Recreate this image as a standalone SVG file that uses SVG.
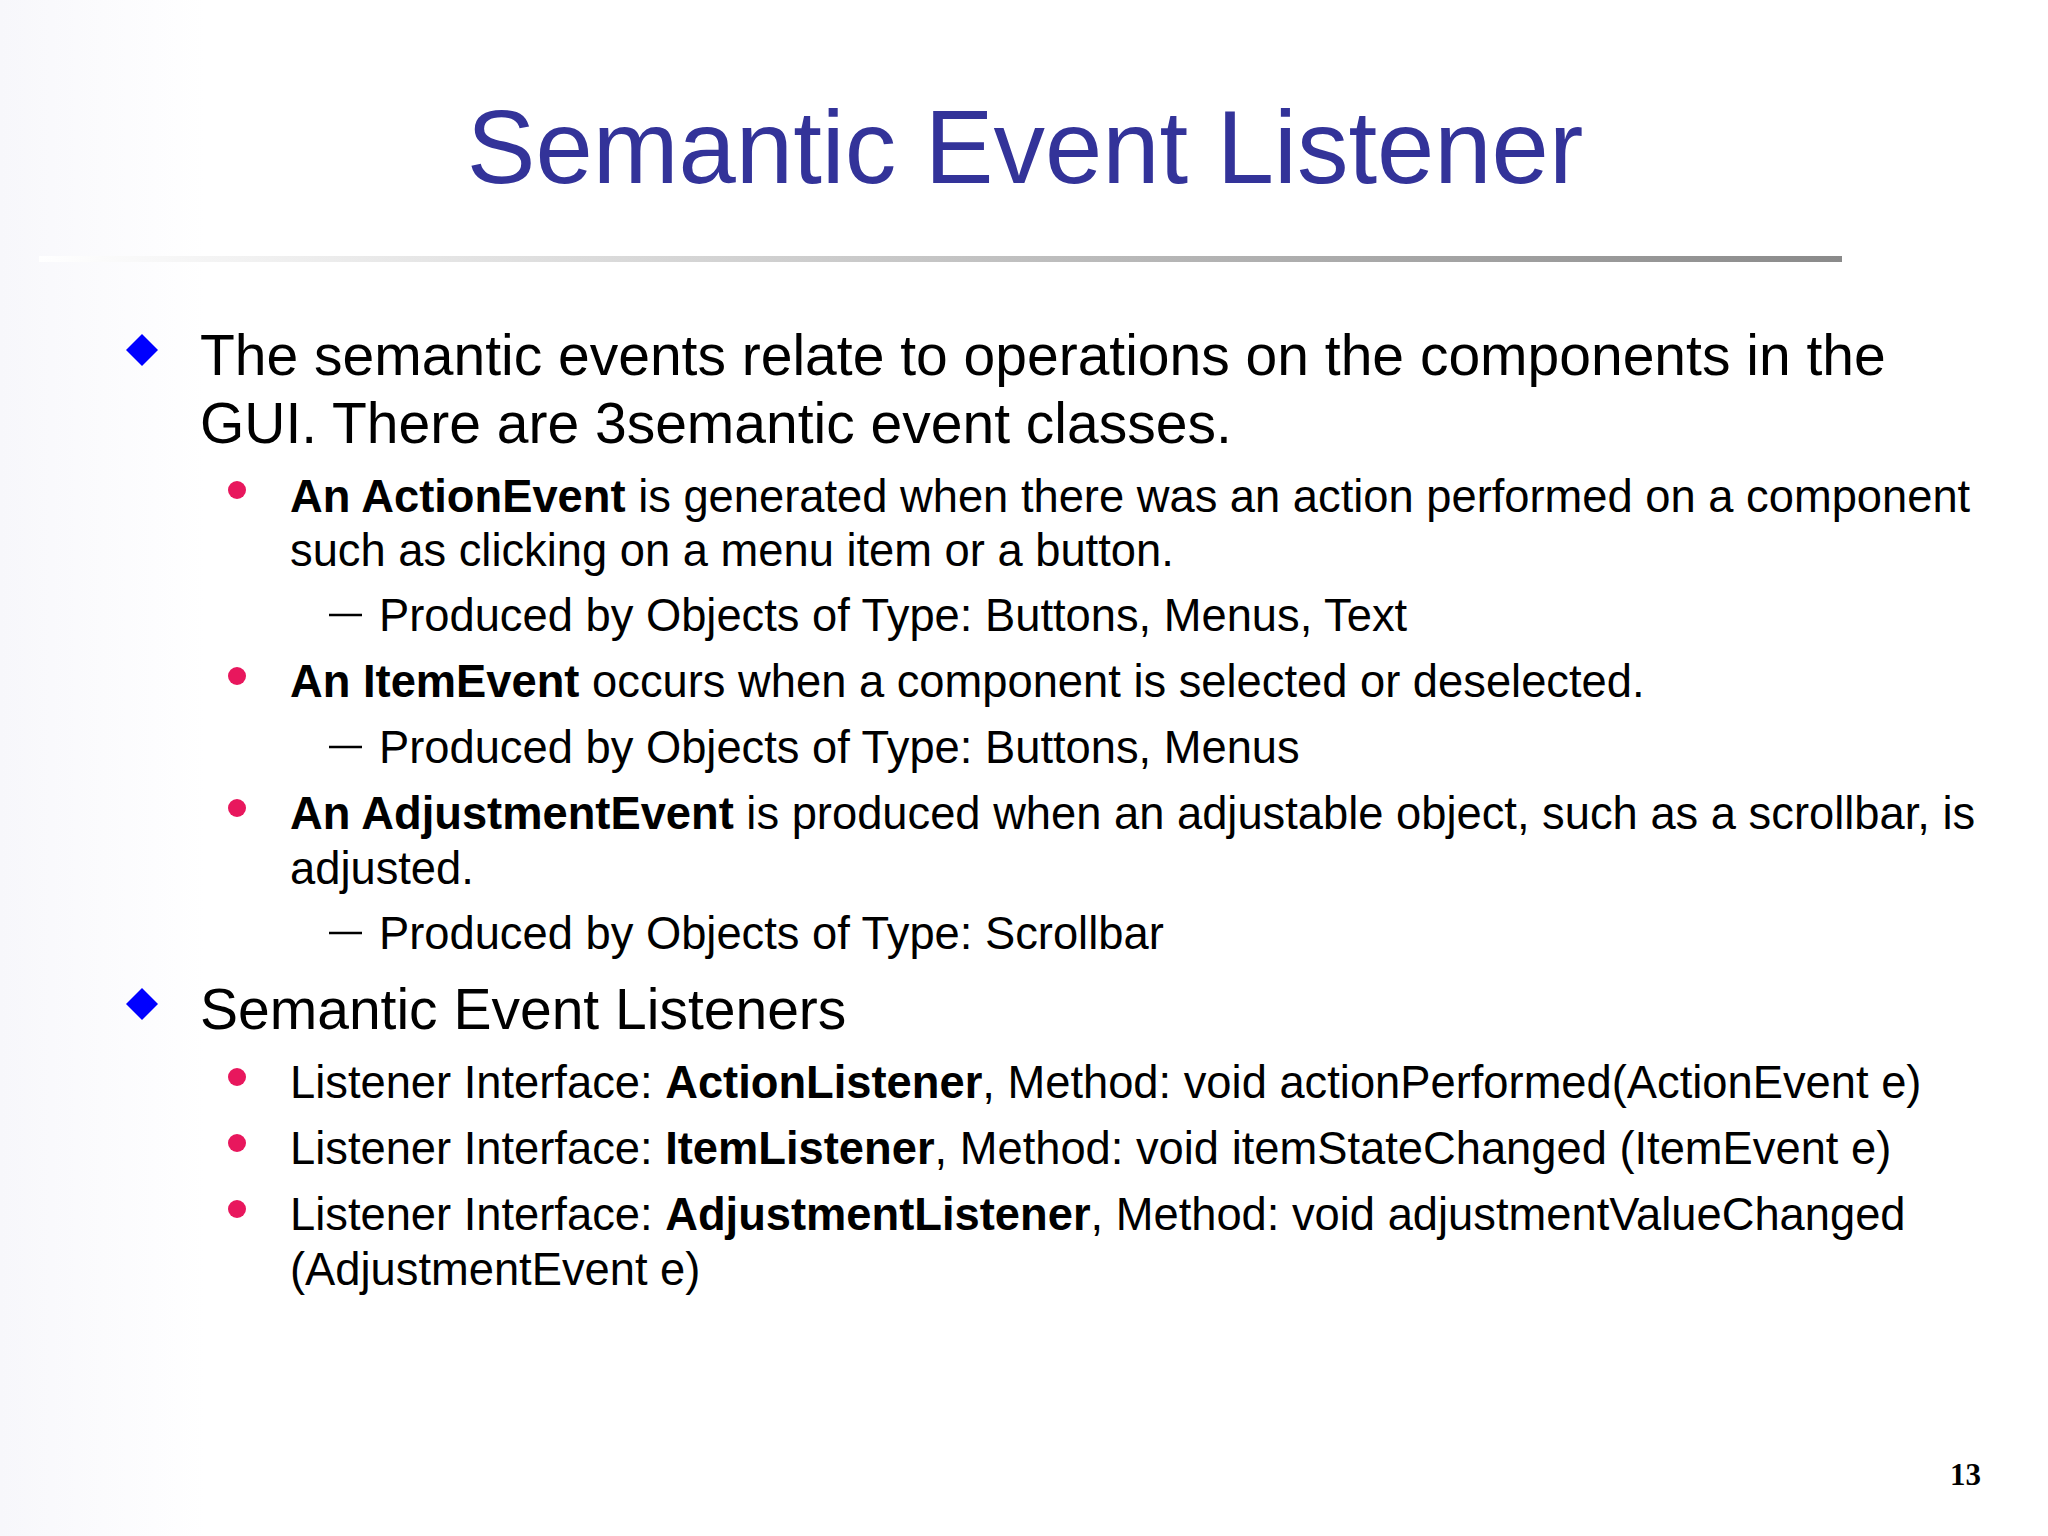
<svg xmlns="http://www.w3.org/2000/svg" width="2048" height="1536" viewBox="0 0 2048 1536">
<defs>
<linearGradient id="rule" x1="0" x2="1" y1="0" y2="0">
<stop offset="0" stop-color="#ffffff"/><stop offset="1" stop-color="#8a8a8a"/>
</linearGradient>
<linearGradient id="bg" x1="0" x2="1" y1="0" y2="0">
<stop offset="0" stop-color="#f7f7fb"/><stop offset="0.1" stop-color="#ffffff"/>
</linearGradient>
</defs>
<style>
text{font-family:"Liberation Sans",Arial,sans-serif;fill:#000}
.l1{font-size:57px}
.l2{font-size:45.3px}
.b{font-weight:bold}
.dot{fill:#e8175d}
.dia{fill:#0000ff}
.dash{stroke:#000;stroke-width:2.5}
</style>
<rect width="2048" height="1536" fill="url(#bg)"/>
<g id="title"><text x="1025" y="183" text-anchor="middle" style="font-size:103px;fill:#333399">Semantic Event Listener</text>
<rect x="39" y="256" width="1803" height="6" fill="url(#rule)"/></g>
<g id="body">
<polygon class="dia" points="142,334 158,350 142,366 126,350"/>
<text class="l1" x="200" y="375">The semantic events relate to operations on the components in the</text>
<text class="l1" x="200" y="443">GUI. There are 3semantic event classes.</text>
<circle class="dot" cx="237" cy="490" r="9"/>
<text class="l2" x="290" y="512"><tspan class="b">An ActionEvent</tspan> is generated when there was an action performed on a component</text>
<text class="l2" x="290" y="566">such as clicking on a menu item or a button.</text>
<line class="dash" x1="329" y1="615" x2="362" y2="615"/>
<text class="l2" x="379" y="631">Produced by Objects of Type: Buttons, Menus, Text</text>
<circle class="dot" cx="237" cy="676" r="9"/>
<text class="l2" x="290" y="697"><tspan class="b">An ItemEvent</tspan> occurs when a component is selected or deselected.</text>
<line class="dash" x1="329" y1="747" x2="362" y2="747"/>
<text class="l2" x="379" y="763">Produced by Objects of Type: Buttons, Menus</text>
<circle class="dot" cx="237" cy="808" r="9"/>
<text class="l2" x="290" y="829"><tspan class="b">An AdjustmentEvent</tspan> is produced when an adjustable object, such as a scrollbar, is</text>
<text class="l2" x="290" y="884">adjusted.</text>
<line class="dash" x1="329" y1="933" x2="362" y2="933"/>
<text class="l2" x="379" y="949">Produced by Objects of Type: Scrollbar</text>
<polygon class="dia" points="142,988 158,1004 142,1020 126,1004"/>
<text class="l1" x="200" y="1029">Semantic Event Listeners</text>
<circle class="dot" cx="237" cy="1077" r="9"/>
<text class="l2" x="290" y="1098">Listener Interface: <tspan class="b">ActionListener</tspan>, Method: void actionPerformed(ActionEvent e)</text>
<circle class="dot" cx="237" cy="1143" r="9"/>
<text class="l2" x="290" y="1164">Listener Interface: <tspan class="b">ItemListener</tspan>, Method: void itemStateChanged (ItemEvent e)</text>
<circle class="dot" cx="237" cy="1209" r="9"/>
<text class="l2" x="290" y="1230">Listener Interface: <tspan class="b">AdjustmentListener</tspan>, Method: void adjustmentValueChanged</text>
<text class="l2" x="290" y="1285">(AdjustmentEvent e)</text>
</g>
<g id="page"><text x="1981" y="1485" text-anchor="end" style="font-family:'Liberation Serif',serif;font-weight:bold;font-size:31px">13</text></g>
</svg>
